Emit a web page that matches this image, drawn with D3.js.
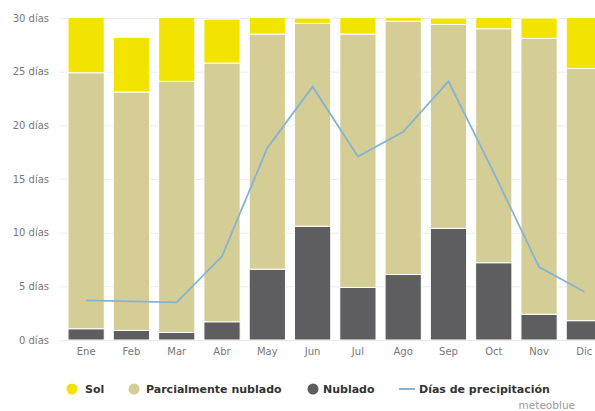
<!DOCTYPE html>
<html><head><meta charset="utf-8">
<script src="https://cdn.jsdelivr.net/npm/d3@7"></script>
<style>body{margin:0;background:#fff}svg{display:block}</style>
</head><body>
<svg id="c" width="595" height="411"></svg>
<script>
const months = ["Ene","Feb","Mar","Abr","May","Jun","Jul","Ago","Sep","Oct","Nov","Dic"];
const nublado = [1.05, 0.9, 0.7, 1.7, 6.6, 10.6, 4.9, 6.1, 10.4, 7.2, 2.4, 1.8];
const parcial = [23.85, 22.2, 23.4, 24.1, 21.9, 18.9, 23.6, 23.6, 19.0, 21.8, 25.7, 23.5];
const sol = [6.1, 5.1, 6.9, 4.1, 2.5, 0.5, 2.5, 1.3, 0.6, 2.0, 1.9, 5.7];
const precip = [3.7, 3.6, 3.5, 7.8, 17.9, 23.6, 17.1, 19.4, 24.1, 15.6, 6.8, 4.5];
const yTicks = [0, 5, 10, 15, 20, 25, 30];
const seriesNames = ["Sol", "Parcialmente nublado", "Nublado", "Días de precipitación"];
const colors = {sol:"#f2e400", parcial:"#d4cd95", nublado:"#5e5e60", line:"#86b3d3"};

const svg = d3.select("#c");
const pL = 60, pR = 595, pT = 18, pB = 340;
const x = d3.scaleBand().domain(months).range([63.5, 607]).paddingInner(0.2).paddingOuter(0.1);
const y = d3.scaleLinear().domain([0, 30]).range([pB, pT]);
const axisFont = "'DejaVu Sans', sans-serif";

svg.append("defs").append("clipPath").attr("id","clip")
  .append("rect").attr("x", pL).attr("y", pT).attr("width", pR-pL).attr("height", pB-pT);

// grid
svg.append("g").selectAll("line").data(yTicks).join("line")
  .attr("x1", pL).attr("x2", pR).attr("y1", d=>y(d)+0.5).attr("y2", d=>y(d)+0.5)
  .attr("stroke", "#ececec").attr("stroke-width", 1);

// y labels
const yAxis = d3.axisLeft(y).tickValues(yTicks).tickSize(0).tickPadding(0).tickFormat(d=>d+" días");
const gy = svg.append("g").attr("transform", `translate(49,0)`).call(yAxis);
gy.select(".domain").remove();
gy.selectAll("text").attr("fill","#777").style("font-family",axisFont).style("font-size","10px");

// x labels
const xAxis = d3.axisBottom(x).tickSize(0).tickPadding(0);
const gx = svg.append("g").attr("transform", `translate(0,348)`).call(xAxis);
gx.select(".domain").remove();
gx.selectAll("text").attr("fill","#777").style("font-family",axisFont).style("font-size","10px");

// stacked bars
const data = months.map((m,i)=>({m, nublado:nublado[i], parcial:parcial[i], sol:sol[i]}));
const stack = d3.stack().keys(["nublado","parcial","sol"])(data);
const gb = svg.append("g").attr("clip-path","url(#clip)");
gb.selectAll("g").data(stack).join("g").attr("fill", d=>colors[d.key])
  .selectAll("rect").data(d=>d).join("rect")
  .attr("x", d=>x(d.data.m)).attr("width", x.bandwidth())
  .attr("y", d=>y(d[1])).attr("height", d=>y(d[0])-y(d[1]))
  .attr("stroke","#fff").attr("stroke-width",1);

// line
const line = d3.line().x((d,i)=>x(months[i])+x.bandwidth()/2).y(d=>y(d));
svg.append("path").datum(precip).attr("d", line).attr("fill","none")
  .attr("stroke", colors.line).attr("stroke-width", 1.8).attr("clip-path","url(#clip)");

// legend
const lg = svg.append("g").style("font-family",axisFont).style("font-size","11px").style("font-weight","bold").attr("fill","#333");
const ly = 389;
const items = [
  {name:seriesNames[0], type:"c", color:colors.sol, mx:72, tx:85},
  {name:seriesNames[1], type:"c", color:colors.parcial, mx:134, tx:146},
  {name:seriesNames[2], type:"c", color:colors.nublado, mx:313, tx:323},
  {name:seriesNames[3], type:"l", color:colors.line, mx:407, tx:419}
];
items.forEach(it=>{
  if(it.type==="c") lg.append("circle").attr("cx",it.mx).attr("cy",ly).attr("r",5.5).attr("fill",it.color);
  else lg.append("line").attr("x1",it.mx-8).attr("x2",it.mx+8).attr("y1",ly).attr("y2",ly).attr("stroke",it.color).attr("stroke-width",2);
  lg.append("text").attr("x",it.tx).attr("y",ly+4).text(it.name);
});
svg.append("text").attr("x",575).attr("y",409).attr("text-anchor","end")
  .style("font-family",axisFont).style("font-size","10.5px").attr("fill","#9a9a9a").text("meteoblue");
</script>
</body></html>
